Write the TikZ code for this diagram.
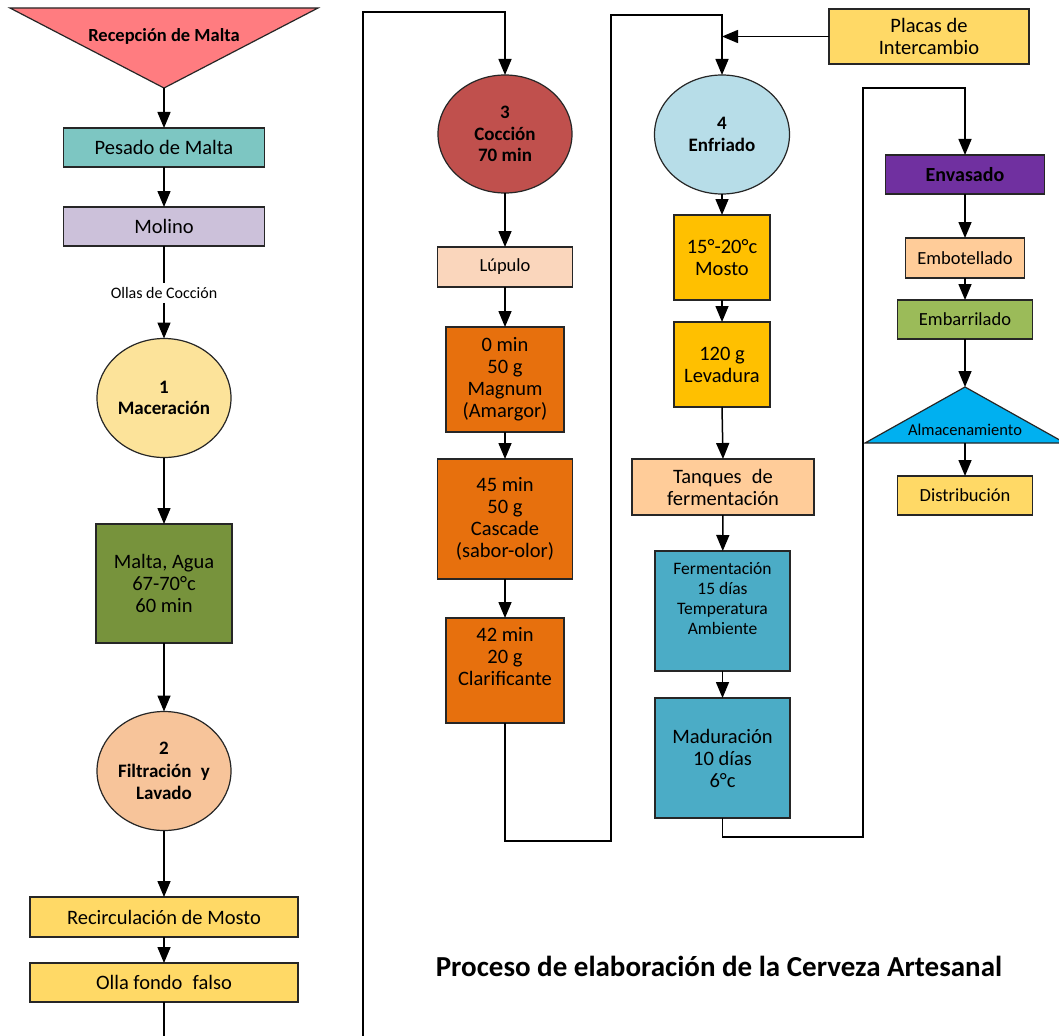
\documentclass[tikz,border=0pt]{standalone}
\usepackage{fontspec}
\setmainfont{Carlito}
\usetikzlibrary{arrows.meta,shapes.geometric}
\definecolor{cRec}{HTML}{FF7C80}
\definecolor{cPes}{HTML}{7DC6C2}
\definecolor{cMol}{HTML}{CCC1DA}
\definecolor{cMac}{HTML}{FCE39A}
\definecolor{cMalta}{HTML}{77933C}
\definecolor{cFilt}{HTML}{F7C49A}
\definecolor{cYel}{HTML}{FFD966}
\definecolor{cCoc}{HTML}{C0504D}
\definecolor{cLup}{HTML}{FAD6BC}
\definecolor{cOra}{HTML}{E7700D}
\definecolor{cEnf}{HTML}{B7DDE8}
\definecolor{cGold}{HTML}{FFC000}
\definecolor{cTan}{HTML}{FFCC99}
\definecolor{cTeal}{HTML}{4BACC6}
\definecolor{cEnv}{HTML}{7030A0}
\definecolor{cEmba}{HTML}{9BBB59}
\definecolor{cAlm}{HTML}{00B0F0}
\begin{document}
\begin{tikzpicture}[x=1pt,y=-1pt,
  arr/.style={-{Triangle[length=16pt,width=13pt]}, line width=1.5pt, draw=black},
  ln/.style={line width=1.5pt, draw=black},
  box/.style={rectangle, draw=black!85, line width=1.2pt, inner sep=0pt, outer sep=0pt, align=center},
  oval/.style={ellipse, draw=black!85, line width=1.2pt, inner sep=0pt, outer sep=0pt, align=center, font=\bfseries\fontsize{19}{21.5}\selectfont},
  tx/.style={font=\fontsize{20.5}{22}\selectfont},
  tsm/.style={font=\fontsize{18.5}{20}\selectfont},
]
\useasboundingbox (0,0) rectangle (1059,1035);
\clip (0,0) rectangle (1059,1035);
\fill[white] (0,0) rectangle (1059,1035);

% ---------- column 1 ----------
\draw[fill=cRec, draw=black!85, line width=1.2pt] (10,8) -- (318,8) -- (164,88) -- cycle;
\node[font=\bfseries\fontsize{18.5}{20}\selectfont] (rec) at (164,36) {Recepción de Malta};
\coordinate (recA) at (164,88);
\node[box, fill=cPes, minimum width=201pt, minimum height=39pt, tx] (pes) at (164,147.5) {Pesado de Malta};
\node[box, fill=cMol, minimum width=201pt, minimum height=39pt, tx] (mol) at (164,226.5) {Molino};
\node[font=\fontsize{16}{18}\selectfont, inner sep=4pt] (ollas) at (164,293) {Ollas de Cocción};
\node[oval, fill=cMac, minimum width=134pt, minimum height=119pt] (mac) at (164,398) {1\\Maceración};
\node[box, fill=cMalta, minimum width=136pt, minimum height=119pt, tx] (malta) at (164,583.5) {Malta, Agua\\67-70°c\\60 min};
\node[oval, fill=cFilt, minimum width=134pt, minimum height=119pt, font=\bfseries\fontsize{19}{22.5}\selectfont] (filt) at (164,771) {2\\Filtración\enspace y\\Lavado};
\node[box, fill=cYel, minimum width=268pt, minimum height=40pt, tx] (recir) at (164,917) {Recirculación de Mosto};
\node[box, fill=cYel, minimum width=268pt, minimum height=39pt, tx] (olla) at (164,982.5) {Olla fondo\enspace falso};

\draw[arr] (recA) -- (pes);
\draw[arr] (pes) -- (mol);
\draw[ln] (mol) -- (ollas);
\draw[arr] (ollas) -- (mac);
\draw[arr] (mac) -- (malta);
\draw[arr] (malta) -- (filt);
\draw[arr] (filt) -- (recir);
\draw[arr] (recir) -- (olla);

% ---------- column 2 ----------
\node[oval, fill=cCoc, minimum width=134pt, minimum height=118pt] (cocc) at (505,134) {3\\Cocción\\70 min};
\node[box, fill=cLup, minimum width=135pt, minimum height=40pt, tsm] (lup) at (505,267) {Lúpulo};
\node[box, fill=cOra, minimum width=118pt, minimum height=105pt, tx] (magn) at (505,379.5) {0 min\\50 g\\Magnum\\(Amargor)};
\node[box, fill=cOra, minimum width=135pt, minimum height=120pt, tx] (casc) at (505,519) {45 min\\50 g\\Cascade\\(sabor-olor)};
\node[box, fill=cOra, minimum width=118pt, minimum height=105pt, tx] (clar) at (505,670.5) {42 min\\20 g\\Clarificante\\\strut};

\draw[arr] (olla.south) -- (164,1060) -- (363,1060) -- (363,12) -- (505,12) -- (cocc.north);
\draw[arr] (cocc) -- (lup);
\draw[arr] (lup) -- (magn);
\draw[arr] (magn) -- (casc);
\draw[arr] (casc) -- (clar);

% ---------- column 3 ----------
\node[box, fill=cYel, minimum width=200pt, minimum height=55pt, tx] (plac) at (929,36.5) {Placas de\\Intercambio};
\coordinate (plj) at (722,36.5);
\node[oval, fill=cEnf, minimum width=135pt, minimum height=119pt] (enf) at (722,134.5) {4\\Enfriado};
\node[box, fill=cGold, minimum width=96pt, minimum height=85pt, tx] (most) at (722,257.5) {15°-20°c\\Mosto};
\node[box, fill=cGold, minimum width=96pt, minimum height=85pt, tx] (lev) at (722,364.5) {120 g\\Levadura};
\node[box, fill=cTan, minimum width=182pt, minimum height=56pt, tx] (tanq) at (723,487) {Tanques\enspace de\\fermentación};
\node[box, fill=cTeal, minimum width=135pt, minimum height=120pt, font=\fontsize{17.5}{20}\selectfont] (ferm) at (722.5,611) {Fermentación\\15 días\\Temperatura\\Ambiente\\\strut};
\node[box, fill=cTeal, minimum width=135pt, minimum height=120pt, tx] (mad) at (722.5,758) {Maduración\\10 días\\6°c};

\draw[arr] (clar.south) -- (505,841) -- (611,841) -- (611,15) -- (722,15) -- (enf.north);
\draw[arr] (plac.west) -- (plj);
\draw[arr] (enf) -- (most);
\draw[arr] (most) -- (lev);
\draw[arr] (lev.south) -- (tanq.north);
\draw[arr] (tanq) -- (ferm);
\draw[arr] (ferm) -- (mad);

% ---------- column 4 ----------
\node[box, fill=cEnv, minimum width=159pt, minimum height=39pt, font=\bfseries\fontsize{20}{22}\selectfont] (env) at (965,174.5) {Envasado};
\node[box, fill=cTan, minimum width=119pt, minimum height=40pt, tsm] (embo) at (965,258) {Embotellado};
\node[box, fill=cEmba, minimum width=135pt, minimum height=39pt, tsm] (emba) at (965,319.5) {Embarrilado};
\draw[fill=cAlm, draw=black!85, line width=1.2pt] (865,443) -- (965,387) -- (1065,443) -- cycle;
\node[font=\fontsize{16.5}{18}\selectfont] (alm) at (965,430) {Almacenamiento};
\coordinate (almT) at (965,387);
\coordinate (almB) at (965,443);
\node[box, fill=cYel, minimum width=135pt, minimum height=39pt, tsm] (dist) at (965,495.5) {Distribución};

\draw[arr] (mad.south) -- (722.5,837) -- (863,837) -- (863,88) -- (965,88) -- (env.north);
\draw[arr] (env) -- (embo);
\draw[arr] (embo) -- (emba);
\draw[arr] (emba) -- (almT);
\draw[arr] (almB) -- (dist);

% ---------- title ----------
\node[font=\bfseries\fontsize{29}{31}\selectfont] (title) at (719,966) {Proceso de elaboración de la Cerveza Artesanal};
\end{tikzpicture}
\end{document}
